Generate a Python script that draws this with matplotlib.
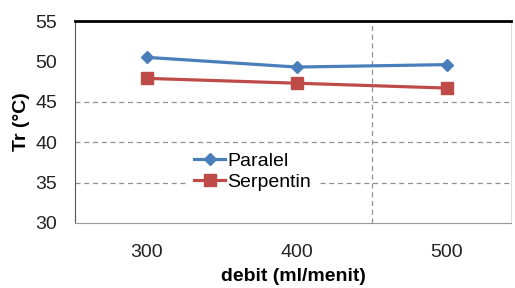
import numpy as np
import matplotlib.pyplot as plt

plt.rcParams['font.family'] = ['Liberation Sans', 'DejaVu Sans']

debit = ['300', '400', '500']
paralel = [50.5, 49.3, 49.6]
serpentin = [47.9, 47.3, 46.7]
grid_y = [35, 40, 45]

fig = plt.figure(figsize=(5.15, 2.88), dpi=100)
ax = fig.add_axes([75 / 515, 1 - 223 / 288, 436 / 515, 202 / 288])

x = np.arange(len(debit))
ax.plot(x, paralel, color='#4a7ebb', lw=2.3, marker='D', ms=6, label='Paralel')
ax.plot(x, serpentin, color='#be4b48', lw=2.3, marker='s', ms=8, label='Serpentin')

for g in grid_y:
    ax.axhline(g, color='#909090', lw=0.9, ls=(0, (4, 3)), zorder=0)
ax.axvline(1.5, color='#909090', lw=0.9, ls=(0, (4, 3)), zorder=0)

ax.set_xlim(-0.48, 2.43)
ax.set_ylim(30, 55)
ax.set_yticks([30, 35, 40, 45, 50, 55])
ax.set_xticks(x)
ax.set_xticklabels(debit)
ax.tick_params(axis='both', length=0, labelsize=14, colors='#222222')
ax.tick_params(axis='y', pad=13)
ax.tick_params(axis='x', pad=15)

ax.spines['top'].set_color('black')
ax.spines['top'].set_linewidth(2)
ax.spines['left'].set_color('#555555')
ax.spines['bottom'].set_color('#999999')
ax.spines['right'].set_color('#dddddd')

ax.set_ylabel('Tr (°C)', fontsize=14, fontweight='bold', labelpad=4)
ax.set_xlabel('debit (ml/menit)', fontsize=14, fontweight='bold', labelpad=5)

ax.legend(loc='upper left', bbox_to_anchor=(0.26, 0.38), frameon=True,
          facecolor='white', edgecolor='none', framealpha=1, fontsize=14,
          handlelength=1.6, handletextpad=0.1, borderpad=0.3, labelspacing=0.2,
          borderaxespad=0)

fig.savefig('out.png', dpi=100)
